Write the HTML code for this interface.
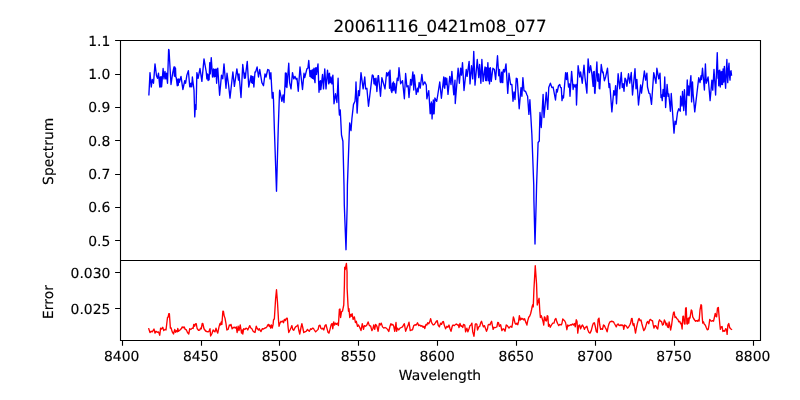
<!DOCTYPE html>
<html lang="en"><head><meta charset="utf-8"><title>20061116_0421m08_077</title>
<style>html,body{margin:0;padding:0;background:#fff;}body{width:800px;height:400px;overflow:hidden;}svg{display:block;}text{font-family:"DejaVu Sans","Liberation Sans",sans-serif;fill:#000;stroke:#000;stroke-width:0.15px;text-rendering:geometricPrecision;}svg{will-change:transform;}.t{font-size:13.889px;}.ti{font-size:16.667px;}</style></head><body>
<svg width="800" height="400" viewBox="0 0 800 400">
<rect x="0" y="0" width="800" height="400" fill="#ffffff"/>
<polyline fill="none" stroke="#0000ff" stroke-width="1.35" stroke-linejoin="round" stroke-linecap="square" points="148.90,94.75 150.00,72.62 151.25,87.00 152.25,79.50 153.50,83.25 155.00,63.88 156.50,75.75 157.50,78.25 158.50,73.25 159.75,87.00 160.25,77.00 160.75,86.75 161.12,76.75 161.62,86.75 163.12,68.50 164.00,78.88 165.00,71.38 165.75,78.88 166.50,73.25 167.50,83.25 168.62,49.50 169.00,49.75 171.00,84.50 172.75,72.62 174.00,67.00 174.38,76.00 174.75,67.00 175.12,76.50 175.50,68.25 175.88,77.00 176.25,77.62 177.25,85.75 177.75,79.25 178.25,85.25 178.75,79.00 179.38,82.25 181.00,76.38 182.88,89.50 184.75,80.75 185.62,83.25 186.88,75.12 188.38,70.75 189.75,86.75 190.25,83.50 190.75,86.75 191.25,83.25 191.75,86.75 192.38,77.00 194.00,90.12 194.75,116.90 195.40,105.00 196.00,109.40 196.50,90.00 196.88,72.62 198.12,78.25 200.00,68.50 201.88,81.38 204.00,58.88 206.25,72.00 206.88,78.88 207.50,73.88 208.12,80.50 208.75,74.75 209.12,79.75 209.75,62.62 210.25,73.88 211.25,57.62 212.50,77.00 213.50,68.88 214.12,77.00 214.75,69.50 215.38,76.38 216.00,69.00 216.62,83.25 217.25,69.75 217.75,68.25 219.62,95.25 221.50,75.12 222.75,78.88 224.00,63.88 226.00,88.25 227.00,73.25 228.50,84.50 230.00,98.12 232.88,72.00 234.38,86.38 236.88,68.88 238.50,80.12 239.00,73.88 241.00,97.50 242.75,64.50 244.38,78.25 244.88,73.25 245.38,78.00 245.88,72.62 247.25,61.38 248.75,87.00 251.00,75.75 251.50,82.62 252.00,76.38 252.50,83.25 253.00,76.38 253.88,87.00 255.00,72.00 255.62,72.00 257.12,67.00 258.50,77.00 259.75,69.50 261.88,82.62 263.50,85.75 265.00,73.88 266.00,77.00 267.75,69.50 269.00,70.12 270.00,78.88 270.88,72.62 272.25,98.10 273.10,92.50 273.50,100.00 274.40,130.00 276.50,191.20 278.20,130.00 279.50,92.00 279.70,90.10 281.90,101.25 283.10,95.00 284.00,102.50 285.00,84.50 285.40,73.00 285.90,86.50 286.30,73.25 286.90,87.50 288.75,63.25 289.62,82.62 291.00,88.88 292.50,72.62 293.75,78.88 295.00,76.38 296.25,79.50 297.00,78.25 298.25,91.25 300.00,67.00 302.50,89.50 304.00,73.25 304.75,77.62 306.88,68.88 307.88,68.25 308.75,60.50 310.00,76.38 310.62,70.75 311.25,77.62 311.88,70.12 312.50,78.25 313.00,69.50 313.50,78.88 314.00,68.25 314.50,79.50 315.00,82.62 315.50,68.25 316.00,67.62 316.50,74.50 318.00,63.88 319.00,92.25 319.50,81.38 320.00,89.50 320.50,80.75 320.88,89.50 322.50,74.50 323.50,88.88 324.75,68.88 326.00,88.88 327.50,70.12 328.75,83.88 329.12,73.88 329.50,73.25 329.88,82.62 330.25,82.62 331.00,77.00 331.88,83.88 332.88,75.12 334.00,103.75 335.50,93.75 336.90,102.50 338.10,78.25 339.00,108.75 339.40,115.00 340.25,110.00 341.50,135.00 342.90,141.25 344.00,185.00 344.30,205.00 346.00,249.70 347.20,205.00 347.40,185.00 349.20,135.00 349.70,123.00 351.00,130.60 351.90,118.75 353.50,104.40 355.00,101.25 355.60,92.50 356.00,82.00 357.10,113.10 358.40,90.75 359.40,95.60 361.00,72.62 363.12,88.88 364.75,77.00 365.62,88.88 366.88,88.25 368.50,106.25 372.25,75.12 372.50,75.00 373.38,76.25 374.00,83.75 374.62,78.75 375.25,85.00 376.00,78.12 376.88,91.50 378.12,75.62 378.50,75.75 380.50,96.25 381.88,77.62 385.00,88.88 386.62,72.62 387.50,75.75 388.38,72.62 389.00,72.00 389.50,88.25 390.00,70.12 391.00,90.12 391.88,92.50 392.50,83.12 393.00,90.62 393.50,81.88 394.12,89.75 394.75,83.75 395.25,91.25 395.75,93.12 397.25,78.12 398.12,80.62 399.00,67.75 400.62,83.75 402.50,80.62 404.38,98.75 405.62,73.50 406.88,86.88 408.12,85.62 409.00,97.50 410.62,79.38 411.50,85.00 412.88,71.88 413.75,90.00 414.38,75.00 416.25,94.38 417.50,88.12 418.12,91.88 419.12,82.50 420.25,88.12 421.88,74.38 423.12,85.00 424.75,81.88 426.25,85.00 426.88,98.75 428.75,90.62 430.20,113.80 430.60,104.00 431.00,113.00 431.40,102.00 432.10,118.90 432.50,104.00 432.90,114.00 433.30,100.00 434.10,113.80 434.90,98.00 436.70,101.40 437.60,96.00 439.75,82.00 441.40,98.30 443.75,77.00 444.25,87.00 444.75,88.25 445.25,77.62 445.75,84.50 446.25,84.50 446.75,78.25 447.12,83.25 448.00,94.40 449.75,76.38 451.00,84.50 451.88,71.38 453.75,94.75 455.00,80.12 455.25,103.50 458.12,68.25 459.38,83.25 460.62,68.25 461.50,75.12 462.50,62.62 464.00,90.50 466.25,69.50 467.12,76.38 469.12,61.38 470.00,83.88 471.50,65.75 472.75,78.88 473.75,51.38 475.00,85.12 477.25,59.50 478.75,77.62 479.62,64.50 480.88,83.25 481.88,59.50 483.12,81.38 485.00,67.00 485.62,80.50 486.25,67.62 486.88,80.75 487.88,62.62 488.62,80.75 489.00,68.25 489.50,83.88 490.38,67.62 491.25,81.38 492.88,68.25 494.38,69.50 495.62,79.50 497.50,55.75 498.75,75.75 499.50,69.50 500.25,82.00 501.00,82.62 501.50,72.62 501.88,72.00 502.38,82.00 502.75,82.62 503.25,70.12 503.75,69.50 504.62,72.00 506.00,63.88 507.75,93.38 509.00,73.25 510.62,84.50 511.88,84.50 513.00,101.25 514.00,92.00 515.00,99.50 516.25,78.25 517.25,78.90 519.20,108.75 521.00,87.60 521.90,96.25 522.90,77.60 524.00,90.75 525.60,91.40 527.00,95.00 527.60,96.25 528.90,114.40 529.90,99.70 531.90,135.00 533.75,185.00 533.90,200.00 535.00,244.00 536.25,200.00 536.60,185.00 538.10,142.50 539.30,141.00 539.40,135.00 540.00,112.50 541.25,127.50 543.10,94.40 544.00,117.50 546.25,92.30 547.75,109.40 548.75,87.60 550.40,83.25 551.90,87.60 553.10,87.00 555.50,100.00 556.50,89.50 557.25,92.00 558.50,85.75 559.75,84.50 560.60,87.60 561.30,87.60 562.00,100.60 562.80,96.00 563.50,98.00 565.62,72.62 566.50,79.50 567.25,72.62 568.50,87.00 569.38,83.88 570.00,96.25 571.62,71.38 573.12,89.50 574.00,84.50 575.00,87.00 576.00,84.50 576.50,105.00 578.12,65.75 579.75,77.00 580.62,72.00 582.25,83.25 584.00,65.12 585.00,77.62 586.88,93.12 588.12,58.88 589.38,72.62 590.62,65.75 591.88,73.88 593.12,86.38 593.50,72.00 593.88,85.75 594.25,71.38 594.62,92.62 595.00,93.50 596.88,62.00 597.62,80.75 598.12,81.38 598.50,73.88 598.75,73.88 599.25,88.25 599.75,88.88 601.25,64.50 602.50,72.62 603.12,72.00 604.38,80.75 605.62,77.00 607.50,68.25 609.00,87.50 609.75,83.75 611.88,111.88 613.75,90.62 614.75,95.00 615.62,85.62 616.50,103.75 618.12,73.75 619.75,88.75 621.25,72.50 622.25,87.50 623.12,83.75 624.00,91.25 625.00,78.12 626.00,80.00 626.88,86.25 628.50,73.75 629.75,83.12 631.25,72.50 632.50,95.00 635.00,68.75 636.00,88.75 636.88,79.38 638.50,105.00 640.62,85.00 641.50,93.12 644.38,71.00 645.62,80.12 646.88,73.25 647.50,87.00 649.00,93.25 650.00,93.88 651.50,104.40 653.75,72.62 656.00,83.25 656.88,68.25 658.75,78.88 660.00,73.25 661.00,97.50 661.60,95.00 662.25,100.60 663.10,89.50 664.00,96.40 664.75,77.00 665.60,107.50 667.10,84.50 668.10,96.40 668.80,94.00 670.40,111.25 671.25,93.50 674.00,133.10 675.00,121.25 676.00,124.40 677.50,112.50 678.75,108.75 680.25,111.25 680.60,96.25 681.90,106.00 682.50,91.50 683.75,110.60 684.40,89.75 686.00,115.00 687.25,80.00 687.90,95.00 688.50,86.00 689.10,95.60 690.00,84.40 690.90,75.60 691.60,101.90 692.50,82.00 693.10,93.75 694.75,111.90 698.75,77.60 700.00,82.60 701.00,75.75 701.50,79.50 702.50,68.25 704.40,90.00 705.40,63.90 706.25,83.25 708.10,77.00 710.10,100.60 711.90,80.10 712.75,90.10 714.00,69.50 715.60,95.00 717.25,52.60 718.00,78.25 718.38,70.75 718.75,85.75 719.25,70.75 719.75,70.12 720.25,87.00 720.75,72.00 721.25,84.50 721.88,71.38 722.50,84.50 723.12,68.88 723.75,82.00 724.38,66.38 725.00,79.50 725.62,88.25 726.25,72.00 726.88,59.50 727.38,77.00 727.75,82.62 728.38,69.50 729.00,63.25 729.50,75.75 730.00,80.12 730.50,72.00 731.00,70.75 731.50,75.12"/>
<polyline fill="none" stroke="#ff0000" stroke-width="1.35" stroke-linejoin="round" stroke-linecap="square" points="148.75,328.75 150.00,332.50 151.25,331.25 152.25,331.88 154.00,329.00 155.00,333.12 156.00,331.25 157.25,332.25 158.50,331.88 159.75,335.25 160.62,328.12 161.62,329.00 162.75,327.25 163.75,330.62 165.00,329.38 166.00,330.00 167.50,317.50 168.12,317.25 168.75,313.75 169.38,313.75 170.38,328.12 171.00,327.75 172.25,331.88 173.50,334.00 174.75,329.38 175.62,332.25 176.25,330.62 177.25,331.88 177.75,328.50 178.50,331.25 180.00,330.00 181.25,328.75 182.25,326.88 183.12,327.75 184.12,326.88 185.25,329.38 186.25,329.75 187.50,332.50 188.75,334.00 189.75,328.75 191.00,329.38 192.25,328.12 193.12,328.50 193.75,324.38 194.62,326.25 195.38,324.00 196.25,323.75 197.12,328.50 198.50,330.25 199.75,330.00 200.62,328.12 201.25,328.75 202.25,323.50 202.88,323.75 204.00,328.75 205.62,331.00 206.88,331.50 208.12,331.88 209.00,331.25 210.00,328.75 210.62,336.00 211.88,333.75 213.12,330.00 214.12,331.25 215.00,331.88 216.00,328.12 216.88,331.25 217.75,333.12 219.00,326.88 220.00,323.50 220.62,325.00 221.25,321.88 221.88,324.38 222.88,311.25 223.50,311.50 224.12,315.62 225.00,318.12 226.00,323.75 226.88,330.00 228.12,329.38 229.38,325.00 230.25,325.62 231.00,324.38 232.12,328.75 233.12,327.75 234.38,327.25 235.25,328.12 236.25,326.88 237.12,332.50 238.12,326.25 239.00,330.62 240.25,325.00 241.50,333.12 242.25,330.00 242.75,334.00 243.75,328.75 245.00,329.38 246.00,328.12 246.88,328.50 247.75,330.00 248.75,327.75 249.75,325.62 250.62,327.75 251.88,328.75 253.12,331.25 254.00,331.88 255.00,332.50 256.25,326.25 257.25,328.50 258.50,330.00 259.38,328.75 260.25,330.62 261.00,331.50 262.25,328.75 263.50,329.00 264.75,328.12 266.00,327.75 266.88,326.88 267.75,325.00 268.50,324.38 269.12,326.25 269.75,325.00 270.62,328.12 271.50,325.00 272.25,328.12 273.12,324.38 273.50,320.00 274.38,318.75 275.60,298.75 276.50,289.70 277.50,302.50 278.50,320.00 279.00,326.25 280.00,323.12 281.00,321.25 281.88,321.88 282.75,321.00 283.50,322.75 284.38,319.38 285.25,320.62 286.25,318.50 287.25,318.12 288.12,327.50 288.75,332.50 290.00,330.00 291.00,327.75 291.88,325.62 292.75,329.38 293.75,330.25 294.75,328.12 295.62,326.88 296.88,326.00 297.88,325.00 298.75,330.00 299.75,334.00 301.00,327.50 301.88,323.75 302.75,327.50 303.75,332.50 305.00,331.88 306.25,331.25 307.50,329.38 308.50,330.62 309.38,331.25 310.62,328.75 311.50,329.38 312.50,328.12 313.50,328.50 314.38,330.00 315.62,331.88 316.88,330.62 318.12,329.38 319.00,325.62 320.00,325.25 321.00,328.50 321.88,329.00 322.75,328.12 323.75,330.00 325.00,325.62 326.00,324.75 326.88,328.12 328.12,332.50 329.00,333.12 330.00,329.38 331.25,324.38 332.12,323.50 332.75,328.75 333.75,321.88 334.62,325.00 335.62,323.12 336.50,324.38 337.50,323.12 338.38,325.62 339.38,309.38 340.00,309.00 340.62,317.50 341.50,311.88 342.50,311.00 343.12,308.12 343.75,305.00 344.25,290.00 344.40,285.00 344.70,267.30 345.20,269.50 346.40,263.40 347.05,272.00 347.10,288.00 348.00,305.00 348.50,311.25 349.00,308.75 349.75,317.50 350.62,314.38 351.25,316.25 352.12,313.75 353.12,319.38 354.38,316.88 355.38,322.50 356.25,321.25 357.50,326.25 358.50,325.00 359.75,327.50 361.00,330.62 362.25,323.75 363.50,329.38 364.38,325.62 365.62,326.25 366.88,325.00 368.12,321.88 369.38,325.62 370.62,326.00 371.88,330.62 372.88,328.75 373.75,325.00 374.75,329.38 375.62,324.38 376.88,326.25 378.12,331.25 379.38,323.50 380.25,325.00 381.25,323.12 382.50,326.88 383.75,328.12 385.00,327.50 386.25,328.12 387.50,329.38 388.75,331.50 390.00,326.25 390.88,323.75 391.88,325.00 392.75,324.38 393.75,326.25 394.75,331.25 396.00,322.50 396.62,331.25 397.50,328.12 398.75,330.00 400.00,328.12 401.25,327.50 402.50,326.88 403.50,325.00 404.38,323.75 405.62,331.25 406.88,328.12 408.12,325.00 409.00,322.25 410.25,330.62 411.50,330.00 412.50,329.75 413.75,325.62 415.00,324.75 416.25,325.00 417.50,322.75 418.75,325.62 419.75,325.00 421.00,326.25 421.88,325.62 423.12,327.25 424.00,326.25 424.75,328.50 426.00,324.38 426.88,325.00 427.75,322.75 428.75,323.75 429.75,321.88 430.62,318.75 431.50,321.88 431.88,323.12 433.12,325.00 434.38,324.38 435.62,322.50 436.50,321.25 437.25,320.62 438.12,325.00 439.38,326.88 440.62,323.12 441.50,324.38 442.50,321.88 443.38,321.50 444.38,325.62 445.62,328.75 446.88,326.25 447.88,327.25 449.00,325.00 450.00,328.75 451.00,331.25 452.25,326.25 453.12,325.00 454.38,325.62 455.62,324.38 456.50,324.00 457.50,325.00 458.50,325.00 459.00,327.50 460.00,323.50 461.00,326.25 461.88,326.00 462.75,327.50 463.50,324.38 464.75,325.00 465.62,331.88 466.88,328.12 467.88,331.88 469.00,328.75 470.00,325.62 471.00,325.00 471.88,323.12 472.75,331.88 474.00,336.25 475.25,324.38 476.00,323.75 476.88,324.38 477.50,330.00 478.75,326.88 479.75,326.25 480.62,323.12 481.50,321.25 482.50,324.38 483.50,326.88 484.38,325.62 485.62,328.75 486.50,331.25 487.50,328.75 488.12,325.00 489.00,324.38 490.00,325.00 490.88,322.50 491.62,321.25 492.50,326.25 493.12,329.38 494.00,327.25 495.00,327.75 496.00,327.25 496.88,326.88 497.75,322.50 498.50,322.75 499.38,326.25 500.62,324.75 501.88,330.62 503.12,328.75 504.00,329.38 505.00,331.25 506.25,325.00 507.25,325.62 508.12,326.88 509.00,328.12 510.00,326.88 510.88,326.25 511.88,327.25 512.50,323.75 513.38,316.88 514.00,318.75 515.00,323.12 516.00,324.38 516.88,323.12 517.75,324.75 518.50,321.88 519.38,315.62 520.25,320.00 521.00,318.12 521.88,319.38 522.75,318.50 523.75,320.00 524.62,318.75 525.62,321.88 526.88,324.75 526.88,325.00 527.75,320.62 528.75,317.25 529.75,316.00 530.62,313.75 531.50,310.00 532.25,306.25 532.88,304.38 533.25,306.88 533.90,290.00 535.25,265.70 536.55,284.00 537.25,305.00 539.10,298.30 539.75,310.00 540.38,317.50 541.25,315.62 542.25,318.75 543.12,321.88 543.75,325.00 544.38,316.88 545.00,317.25 545.62,320.62 546.50,321.00 547.25,315.62 547.88,316.25 548.50,326.25 549.38,324.38 550.25,327.25 551.50,325.00 552.75,323.12 554.00,323.12 555.00,319.38 555.88,318.50 556.88,321.88 557.75,323.75 558.75,325.62 559.75,324.38 561.00,325.00 561.88,323.75 562.75,319.00 563.75,320.00 564.75,321.00 565.62,322.75 566.25,326.25 566.88,329.75 567.75,325.00 568.75,326.00 569.75,325.25 570.62,324.75 571.50,325.00 572.50,324.00 573.50,325.00 574.38,323.50 575.25,326.88 576.25,319.75 577.00,321.25 577.75,333.12 578.75,325.62 579.62,325.00 580.62,328.75 581.62,326.25 582.50,325.00 583.50,326.88 584.38,329.38 585.25,327.50 586.25,326.88 586.88,326.25 587.88,330.00 589.00,332.50 590.00,333.12 591.25,330.62 592.50,325.62 593.50,323.12 594.38,322.75 595.25,326.25 596.25,331.25 597.25,332.50 598.12,319.38 599.00,318.12 599.75,325.00 600.62,329.38 601.50,328.75 602.50,329.38 603.50,325.00 604.38,325.62 605.25,327.50 606.25,329.38 607.12,331.88 608.12,326.88 609.00,323.75 610.00,321.88 611.25,321.25 612.50,321.50 613.50,321.88 614.38,323.50 615.25,325.00 616.25,326.88 617.25,324.38 618.12,324.00 619.00,325.25 620.00,325.62 621.00,324.75 621.88,325.62 622.25,325.00 623.12,325.62 623.75,329.38 624.62,325.00 625.62,325.62 626.50,326.25 627.50,328.12 628.50,327.25 629.75,325.00 630.62,323.12 631.50,318.75 632.12,318.50 632.88,324.38 633.50,325.62 634.00,323.75 634.75,328.75 635.50,333.12 636.50,327.50 637.50,323.12 638.50,319.38 639.12,318.50 640.00,320.62 641.00,320.00 641.88,323.75 642.88,327.50 643.75,330.62 645.00,328.75 646.00,325.62 646.88,322.50 647.75,321.50 648.75,323.75 649.62,320.00 650.62,319.38 651.50,320.62 652.50,320.62 653.12,324.38 654.00,328.12 655.00,325.62 656.00,326.00 656.88,328.12 657.75,329.00 658.75,321.88 659.62,319.75 660.62,321.25 661.50,321.50 662.50,325.00 663.38,324.38 664.38,320.00 665.25,321.88 666.00,325.00 666.88,323.12 667.50,326.88 668.38,327.50 669.12,321.88 669.75,325.00 670.62,330.00 671.50,325.62 672.50,318.12 673.50,312.50 674.12,311.88 675.00,317.50 675.88,316.88 676.88,318.75 677.88,319.38 678.75,321.88 679.75,321.25 680.62,323.75 681.25,323.12 682.12,329.00 682.88,316.50 683.50,316.25 684.38,323.75 685.00,324.00 685.62,308.12 686.25,307.75 686.88,323.75 687.50,324.00 688.12,318.12 688.75,323.12 689.38,317.50 690.00,318.12 691.25,310.00 691.88,310.62 692.75,316.88 693.75,318.75 694.62,320.00 695.62,321.25 696.50,320.62 697.50,321.25 698.38,320.00 699.12,321.00 700.00,310.00 701.00,304.75 701.50,305.00 702.25,317.50 702.75,323.12 703.50,321.88 704.38,324.38 705.25,325.00 706.25,327.50 707.25,329.75 708.25,329.38 709.00,325.00 709.75,319.38 710.62,320.62 711.62,321.25 712.50,320.62 713.50,321.25 714.38,317.50 715.25,313.50 716.00,316.25 716.62,316.88 717.50,308.12 718.38,307.50 718.75,312.50 719.75,323.75 720.38,329.38 721.25,326.88 722.12,326.50 722.88,331.50 724.00,330.62 724.75,331.25 725.62,328.75 726.50,329.38 727.12,334.38 727.88,325.00 728.75,323.50 729.62,327.50 730.62,328.75 731.50,329.38"/>
<path d="M122.50,340.5v5.3M201.50,340.5v5.3M279.50,340.5v5.3M358.50,340.5v5.3M437.50,340.5v5.3M516.50,340.5v5.3M595.50,340.5v5.3M674.50,340.5v5.3M753.50,340.5v5.3M120.5,40.50h-5.4M120.5,74.50h-5.4M120.5,107.50h-5.4M120.5,140.50h-5.4M120.5,174.50h-5.4M120.5,207.50h-5.4M120.5,240.50h-5.4M120.5,272.50h-5.4M120.5,308.50h-5.4" stroke="#000" stroke-width="1.11" fill="none"/>
<path d="M120.5,40.5H760.5V340.5H120.5Z M120.5,260.5H760.5" stroke="#000" stroke-width="1.11" fill="none" stroke-linejoin="miter" stroke-linecap="square"/>
<text class="t" x="121.70" y="360.5" text-anchor="middle">8400</text>
<text class="t" x="200.57" y="360.5" text-anchor="middle">8450</text>
<text class="t" x="279.45" y="360.5" text-anchor="middle">8500</text>
<text class="t" x="358.32" y="360.5" text-anchor="middle">8550</text>
<text class="t" x="437.20" y="360.5" text-anchor="middle">8600</text>
<text class="t" x="516.08" y="360.5" text-anchor="middle">8650</text>
<text class="t" x="594.95" y="360.5" text-anchor="middle">8700</text>
<text class="t" x="673.83" y="360.5" text-anchor="middle">8750</text>
<text class="t" x="752.70" y="360.5" text-anchor="middle">8800</text>
<text class="t" x="110.3" y="46.00" text-anchor="end">1.1</text>
<text class="t" x="110.3" y="79.00" text-anchor="end">1.0</text>
<text class="t" x="110.3" y="112.00" text-anchor="end">0.9</text>
<text class="t" x="110.3" y="146.00" text-anchor="end">0.8</text>
<text class="t" x="110.3" y="179.00" text-anchor="end">0.7</text>
<text class="t" x="110.3" y="212.00" text-anchor="end">0.6</text>
<text class="t" x="110.3" y="246.00" text-anchor="end">0.5</text>
<text class="t" x="110.3" y="278.00" text-anchor="end">0.030</text>
<text class="t" x="110.3" y="314.00" text-anchor="end">0.025</text>
<text class="ti" x="440" y="32" text-anchor="middle">20061116_0421m08_077</text>
<text class="t" x="440" y="380" text-anchor="middle">Wavelength</text>
<text class="t" transform="translate(53.25,151.3) rotate(-90)" text-anchor="middle">Spectrum</text>
<text class="t" transform="translate(53.25,302) rotate(-90)" text-anchor="middle">Error</text>
</svg></body></html>
